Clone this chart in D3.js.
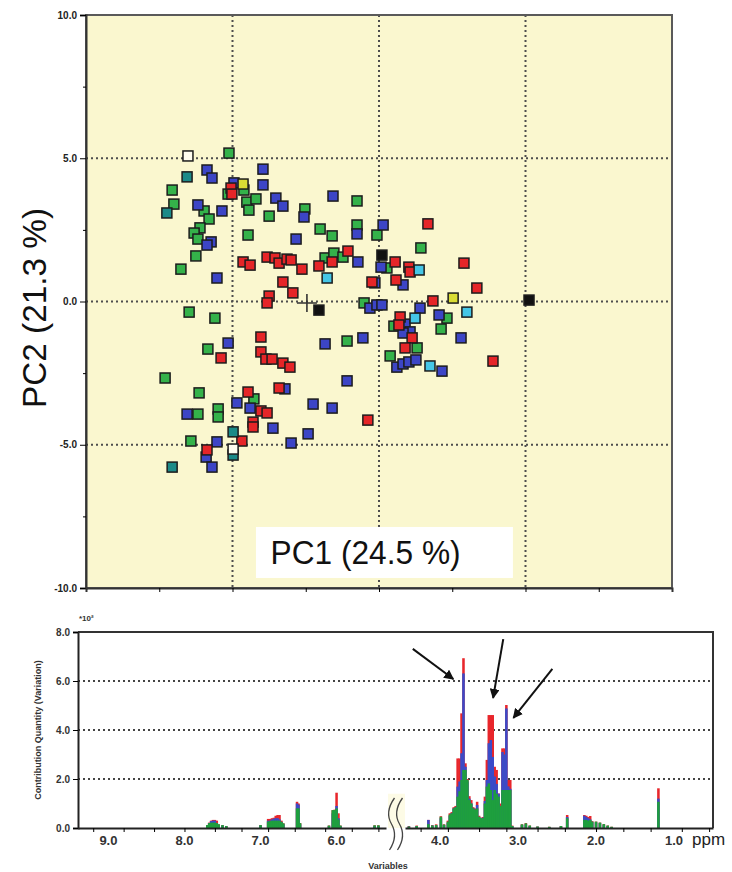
<!DOCTYPE html>
<meta charset="utf-8">
<script src="https://d3js.org/d3.v7.min.js"></script>
<style>
  body { margin: 0; background: #fff; }
  text { font-family: "Liberation Sans", Arial, sans-serif; }
</style>
<svg id="chart" width="732" height="872"></svg>
<script>

// ---------- score plot data: [PC1, PC2] per sample group ----------
var greenPts = [[-5.12,5.18],[-7.06,3.89],[-7.00,3.40],[-5.97,3.16],[-5.80,2.88],[-5.15,3.75],[-4.61,3.89],
  [-4.51,3.47],[-4.44,3.19],[-4.20,3.58],[-3.75,2.98],[-6.11,2.57],[-6.31,2.39],[-6.18,2.18],[-4.47,2.32],
  [-6.25,1.59],[-6.76,1.13],[-0.75,3.51],[-2.53,3.23],[-2.01,2.53],[-1.60,2.29],[-0.75,2.67],[-0.07,2.32],
  [-1.84,1.52],[-1.54,1.69],[-1.23,1.55],[0.27,1.17],[1.43,1.87],[-0.51,-0.05],[-6.48,-0.37],[-5.60,-0.58],
  [-5.84,-1.66],[-7.30,-2.67],[-6.14,-3.19],[-4.27,-3.40],[-6.18,-3.93],[-5.49,-3.75],[-5.49,-4.03],
  [-6.42,-4.87],[-1.09,-1.38],[0.38,-1.90],[0.51,-0.86],[1.30,-1.62],[2.32,-0.58],[2.12,-0.96]];
var bluePts = [[-5.87,4.59],[-5.70,4.31],[-6.18,3.37],[-5.36,3.16],[-4.95,4.14],[-3.96,4.62],[-3.96,4.07],
  [-3.52,3.61],[-3.28,3.33],[-5.73,2.08],[-5.87,1.97],[-5.53,0.82],[-1.57,3.68],[-2.56,2.95],[-0.75,2.36],
  [0.14,2.67],[-2.83,2.18],[-0.72,1.38],[0.07,1.20],[-0.14,0.65],[0.82,0.58],[-0.31,-0.23],[-0.07,-0.12],
  [0.10,-0.12],[-5.15,-1.45],[-3.21,-3.05],[-4.85,-3.54],[-6.55,-3.93],[-4.40,-3.72],[-3.62,-4.42],
  [-5.53,-4.90],[-5.90,-5.43],[-5.70,-5.78],[-1.84,-1.48],[-0.55,-1.27],[-1.09,-2.77],[-2.25,-3.58],
  [-1.60,-3.72],[-2.42,-4.62],[-3.00,-4.94],[0.61,-2.29],[0.82,-2.18],[1.02,-2.11],[1.26,-2.04],
  [0.89,-0.79],[1.06,-1.06],[0.82,-1.10],[1.40,-0.23],[2.05,-0.47],[2.80,-1.27],[2.15,-2.43]];
var redPts = [[-5.05,3.96],[-5.02,3.75],[-4.64,1.38],[-4.40,1.27],[-3.82,1.55],[-3.55,1.52],[-3.41,1.34],
  [-3.14,1.48],[-3.00,1.45],[-3.28,0.68],[-2.94,0.30],[-3.75,0.19],[-3.82,-0.05],[-2.63,1.13],[-2.05,1.24],
  [-1.60,1.38],[-1.06,1.76],[0.55,1.38],[1.02,1.20],[1.06,1.03],[-0.24,0.68],[0.58,0.75],[1.67,2.71],
  [2.90,1.34],[3.34,0.47],[1.84,0.02],[-5.39,-1.97],[-4.03,-1.24],[-4.03,-1.76],[-3.86,-2.01],[-3.65,-2.01],
  [-3.28,-2.15],[-3.04,-2.29],[-3.41,-3.02],[-4.47,-3.16],[-4.03,-3.82],[-3.82,-3.89],[-4.30,-4.21],
  [-4.30,-4.38],[-4.68,-4.87],[-5.87,-5.18],[-0.38,-4.14],[0.72,-0.54],[0.68,-0.82],[1.13,-1.27],
  [0.89,-1.62],[3.89,-2.08]];
var tealPts = [[-6.55,4.35],[-7.24,3.09],[-4.98,-4.55],[-4.98,-5.36],[-7.06,-5.78]];
var cyanPts = [[1.37,1.10],[-1.77,0.82],[1.23,-0.58],[3.00,-0.37],[1.74,-2.25]];
var yellowPts = [[-4.64,4.10],[2.53,0.12]];
var whitePts = [[-6.52,5.08],[-4.98,-5.15]];
var blackPts = [[0.10,1.62],[5.12,0.05],[-2.05,-0.30]];
var centroid = [-2.46, -0.05];

var scoreTicks = [-10, -5, 0, 5, 10];
var scoreMinor = [-7.5, -2.5, 2.5, 7.5];
var scoreGrid = [-5, 0, 5];

// ---------- contribution plot data (x10^2) ----------
var barPpm = [7.70,7.675,7.65,7.625,7.60,7.575,7.55,7.50,7.45,7.00,6.90,6.875,6.85,6.825,6.80,6.775,6.75,6.725,6.70,
  6.52,6.50,6.48,6.10,6.05,6.025,6.00,5.975,5.95,5.50,5.45,
  4.40,4.30,4.15,4.10,4.05,3.99,3.95,
  3.900,3.875,3.850,3.825,3.800,3.775,3.750,3.725,3.700,3.675,3.650,3.625,3.600,3.575,3.550,3.525,3.500,
  3.475,3.450,3.425,3.400,3.375,3.350,3.325,3.300,3.275,3.250,3.225,3.200,3.175,3.150,3.125,3.100,3.075,
  2.95,2.90,2.85,2.75,2.60,2.45,2.37,2.15,2.125,2.10,2.075,2.05,2.00,1.95,1.90,1.85,1.80,1.20];
var barRed = [0.12,0.22,0.30,0.33,0.33,0.30,0.15,0.12,0.08,0.12,0.37,0.37,0.40,0.42,0.50,0.53,0.53,0.30,0.19,
  1.07,1.00,0.20,0.10,0.73,0.75,1.44,0.60,0.10,0.11,0.11,
  0.08,0.10,0.33,0.12,0.15,0.48,0.15,
  0.30,0.60,0.65,0.85,0.90,2.84,2.84,4.68,6.93,2.64,2.00,1.30,1.14,0.85,0.80,1.07,0.50,
  0.42,0.45,1.28,2.78,4.61,4.61,4.61,2.50,2.37,1.41,1.00,3.25,3.25,5.02,1.96,1.96,0.10,
  0.15,0.20,0.10,0.06,0.05,0.08,0.53,0.53,0.50,0.45,0.49,0.28,0.26,0.22,0.16,0.10,0.05,1.62];
var barBlue = [0.10,0.20,0.28,0.30,0.30,0.20,0.13,0.10,0.06,0.10,0.30,0.30,0.35,0.38,0.40,0.40,0.35,0.25,0.15,
  1.00,0.95,0.15,0.08,0.60,0.70,0.90,0.40,0.08,0.08,0.08,
  0.06,0.08,0.33,0.10,0.10,0.40,0.12,
  0.20,0.50,0.60,0.80,0.85,1.69,1.90,3.05,6.31,2.50,1.90,1.20,1.00,0.80,0.75,0.94,0.45,
  0.40,0.42,1.10,1.96,3.46,3.59,2.90,2.10,1.80,1.40,0.90,3.10,3.00,4.88,1.70,1.60,0.08,
  0.12,0.15,0.08,0.05,0.04,0.06,0.45,0.50,0.45,0.40,0.35,0.25,0.22,0.20,0.12,0.08,0.04,1.20];
var barGreen = [0.12,0.20,0.22,0.22,0.22,0.20,0.15,0.12,0.08,0.12,0.26,0.28,0.30,0.30,0.30,0.30,0.30,0.25,0.19,
  0.80,0.80,0.20,0.10,0.73,0.73,0.80,0.35,0.10,0.11,0.11,
  0.06,0.08,0.16,0.10,0.12,0.46,0.14,
  0.26,0.55,0.60,0.80,0.85,1.28,1.50,1.96,2.37,2.37,1.96,1.14,1.00,0.80,0.75,0.80,0.46,
  0.40,0.40,1.00,1.69,1.82,1.55,1.14,1.55,1.40,1.28,0.90,1.55,1.55,1.55,1.55,1.55,0.08,
  0.15,0.19,0.10,0.06,0.05,0.08,0.40,0.33,0.33,0.30,0.33,0.26,0.26,0.22,0.16,0.10,0.05,1.07];

var contribTicks = [0, 2, 4, 6, 8];
var contribGrid = [2, 4, 6];
var leftLabels = [9, 8, 7, 6];
var rightLabels = [4, 3, 2, 1];
var leftMinor = [9.2, 8.8, 8.4, 8.0, 7.6, 7.25, 6.9, 6.55, 6.15, 5.8, 5.45];
var rightMinor = [4.25, 3.9, 3.5, 3.15, 2.75, 2.4, 2.0, 1.65, 1.3, 0.9, 0.55];
// arrows pointing at the main peaks: [ppm, value] tail -> tip
var arrows = [
  {from: [4.35, 7.31], to: [3.83, 6.08]},
  {from: [3.19, 7.71], to: [3.32, 5.31]},
  {from: [2.56, 6.49], to: [3.06, 4.49]}
];

var svg = d3.select("#chart");

// =============== score plot ===============
var sx = d3.scaleLinear().domain([-10, 10]).range([86, 672]);
var sy = d3.scaleLinear().domain([-10, 10]).range([588, 15]);

svg.append("rect")
  .attr("x", sx(-10)).attr("y", sy(10))
  .attr("width", sx(10) - sx(-10)).attr("height", sy(-10) - sy(10))
  .attr("fill", "#faf7cf");

var grid = svg.append("g")
  .attr("stroke", "#4d4d4d").attr("stroke-width", 2)
  .attr("stroke-dasharray", "2,3");
grid.selectAll(".gv").data(scoreGrid).enter().append("line")
  .attr("x1", d => sx(d)).attr("x2", d => sx(d))
  .attr("y1", sy(10)).attr("y2", sy(-10));
grid.selectAll(".gh").data(scoreGrid).enter().append("line")
  .attr("y1", d => sy(d)).attr("y2", d => sy(d))
  .attr("x1", sx(-10)).attr("x2", sx(10));

// frame
svg.append("rect")
  .attr("x", sx(-10)).attr("y", sy(10))
  .attr("width", sx(10) - sx(-10)).attr("height", sy(-10) - sy(10))
  .attr("fill", "none").attr("stroke", "#5a5a5a").attr("stroke-width", 2);

// y axis
var yAx = svg.append("g")
  .attr("transform", "translate(" + sx(-10) + ",0)")
  .call(d3.axisLeft(sy).tickValues(scoreTicks).tickSize(6).tickFormat(d => d.toFixed(1)));
yAx.select(".domain").attr("stroke", "#333").attr("stroke-width", 2);
yAx.selectAll("text").style("font-size", "10px").style("font-weight", "bold").attr("fill", "#222");
svg.append("g")
  .attr("transform", "translate(" + sx(-10) + ",0)")
  .call(d3.axisLeft(sy).tickValues(scoreMinor).tickSize(3).tickFormat(""))
  .select(".domain").remove();
svg.append("g")
  .attr("transform", "translate(0," + sy(-10) + ")")
  .call(d3.axisBottom(sx).tickValues(scoreMinor.concat(scoreGrid)).tickSize(4).tickFormat(""))
  .select(".domain").attr("stroke", "#333").attr("stroke-width", 2);

// samples
var groups = [
  {pts: greenPts, fill: "#34b24a"},
  {pts: bluePts, fill: "#3c45c6"},
  {pts: redPts, fill: "#e52528"},
  {pts: tealPts, fill: "#1b8a88"},
  {pts: cyanPts, fill: "#45c6e6"},
  {pts: yellowPts, fill: "#d9dc34"},
  {pts: whitePts, fill: "#fffdf0"},
  {pts: blackPts, fill: "#111111"}
];
var sq = 10;
groups.forEach(function(g) {
  svg.append("g").selectAll("rect").data(g.pts).enter().append("rect")
    .attr("x", d => sx(d[0]) - sq / 2)
    .attr("y", d => sy(d[1]) - sq / 2)
    .attr("width", sq).attr("height", sq)
    .attr("fill", g.fill)
    .attr("stroke", "#1c1c1c").attr("stroke-width", 1.5);
});

// centroid cross
var cx = sx(centroid[0]), cy = sy(centroid[1]);
svg.append("path")
  .attr("d", "M" + (cx - 10) + "," + cy + "H" + (cx + 10) + "M" + cx + "," + (cy - 9) + "V" + (cy + 9))
  .attr("stroke", "#333").attr("stroke-width", 1.6);

// axis titles
svg.append("rect")
  .attr("x", sx(-4.2)).attr("y", sy(-7.87))
  .attr("width", sx(4.57) - sx(-4.2)).attr("height", sy(-9.65) - sy(-7.87))
  .attr("fill", "#ffffff");
svg.append("text")
  .attr("x", sx(-3.7)).attr("y", sy(-9.15))
  .attr("textLength", 190).attr("lengthAdjust", "spacingAndGlyphs")
  .style("font-size", "33px").attr("fill", "#111")
  .text("PC1 (24.5 %)");
svg.append("text")
  .attr("transform", "translate(46,308) rotate(-90)")
  .attr("text-anchor", "middle")
  .attr("textLength", 200).attr("lengthAdjust", "spacingAndGlyphs")
  .style("font-size", "34px").attr("fill", "#111")
  .text("PC2 (21.3 %)");

// =============== contribution plot ===============
var yb = d3.scaleLinear().domain([0, 8]).range([828, 632]);
var xL = d3.scaleLinear().domain([9.4, 5.35]).range([78, 386]);
var xR = d3.scaleLinear().domain([4.45, 0.5]).range([405, 713]);
function xp(p) { return p > 5 ? xL(p) : xR(p); }

// break background
svg.append("rect")
  .attr("x", xL.range()[1] + 2).attr("y", yb(1.4))
  .attr("width", xR.range()[0] - xL.range()[1] - 2).attr("height", yb(0) - yb(1.4))
  .attr("fill", "#fdfbe6");

var gridB = svg.append("g")
  .attr("stroke", "#444").attr("stroke-width", 2)
  .attr("stroke-dasharray", "2,3");
gridB.selectAll("line").data(contribGrid).enter().append("line")
  .attr("x1", xL.range()[0]).attr("x2", xR.range()[1])
  .attr("y1", d => yb(d)).attr("y2", d => yb(d));

// bars: red (total), blue and green drawn on top
var step = 0.025;
var bars = barPpm.map((p, i) => ({p: p, r: barRed[i], b: barBlue[i], g: barGreen[i]}));
function barW(d) { return Math.abs(xp(d.p) - xp(d.p - step)) + 0.6; }
[["r", "#e8262b"], ["b", "#3a4bc8"], ["g", "#1e9f3e"]].forEach(function(s) {
  svg.append("g").selectAll("rect").data(bars).enter().append("rect")
    .attr("x", d => xp(d.p) - barW(d) / 2)
    .attr("width", barW)
    .attr("y", d => yb(d[s[0]]))
    .attr("height", d => yb(0) - yb(d[s[0]]))
    .attr("fill", s[1]);
});

// frame
svg.append("path")
  .attr("d", "M" + xL.range()[0] + "," + yb(8) + "H" + xR.range()[1] + "V" + yb(0))
  .attr("fill", "none").attr("stroke", "#333").attr("stroke-width", 2);

var yAxB = svg.append("g")
  .attr("transform", "translate(" + xL.range()[0] + ",0)")
  .call(d3.axisLeft(yb).tickValues(contribTicks).tickSize(5).tickFormat(d => d.toFixed(1)));
yAxB.select(".domain").attr("stroke", "#222").attr("stroke-width", 2);
yAxB.selectAll("text").style("font-size", "10px").style("font-weight", "bold").attr("fill", "#333");

[[xL, leftMinor], [xR, rightMinor]].forEach(function(a) {
  var ax = svg.append("g")
    .attr("transform", "translate(0," + yb(0) + ")")
    .call(d3.axisBottom(a[0]).tickValues(a[1]).tickSize(4).tickSizeOuter(0).tickFormat(""));
  ax.select(".domain").attr("stroke", "#222").attr("stroke-width", 2);
});

svg.append("g").selectAll("text").data(leftLabels).enter().append("text")
  .attr("x", d => xL(d)).attr("y", 845)
  .attr("text-anchor", "middle")
  .style("font-size", "13px").style("font-weight", "bold").attr("fill", "#333")
  .text(d => d.toFixed(1));
svg.append("g").selectAll("text").data(rightLabels).enter().append("text")
  .attr("x", d => xR(d)).attr("y", 845)
  .attr("text-anchor", "middle")
  .style("font-size", "13px").style("font-weight", "bold").attr("fill", "#333")
  .text(d => d.toFixed(1));
svg.append("text")
  .attr("x", xR(1) + 18).attr("y", 845)
  .style("font-size", "17px").attr("fill", "#222")
  .text("ppm");

// axis break marks
var bx = (xL.range()[1] + xR.range()[0]) / 2;
[-4, 4].forEach(function(o) {
  var x0 = bx + o;
  svg.append("path")
    .attr("d", "M" + (x0 + 3) + ",798 Q" + (x0 - 7) + ",812 " + x0 + ",824 T" + (x0 - 2) + ",850")
    .attr("fill", "none").attr("stroke", "#444").attr("stroke-width", 1.3);
});

// arrows
svg.append("defs").append("marker")
  .attr("id", "head").attr("viewBox", "0 0 10 10")
  .attr("refX", 9).attr("refY", 5)
  .attr("markerWidth", 5).attr("markerHeight", 5)
  .attr("orient", "auto")
  .append("path").attr("d", "M0,0L10,5L0,10Z").attr("fill", "#111");
svg.append("g").selectAll("line").data(arrows).enter().append("line")
  .attr("x1", d => xp(d.from[0])).attr("y1", d => yb(d.from[1]))
  .attr("x2", d => xp(d.to[0])).attr("y2", d => yb(d.to[1]))
  .attr("stroke", "#111").attr("stroke-width", 2)
  .attr("marker-end", "url(#head)");

// titles
svg.append("text")
  .attr("transform", "translate(41,730) rotate(-90)")
  .attr("text-anchor", "middle")
  .style("font-size", "9px").style("font-weight", "bold").attr("fill", "#333")
  .text("Contribution Quantity (Variation)");
svg.append("text")
  .attr("x", 79).attr("y", 621)
  .style("font-size", "8px").style("font-weight", "bold").attr("fill", "#333")
  .text("*10²");
svg.append("text")
  .attr("x", 388).attr("y", 869)
  .attr("text-anchor", "middle")
  .style("font-size", "9px").style("font-weight", "bold").attr("fill", "#333")
  .text("Variables");

</script>
